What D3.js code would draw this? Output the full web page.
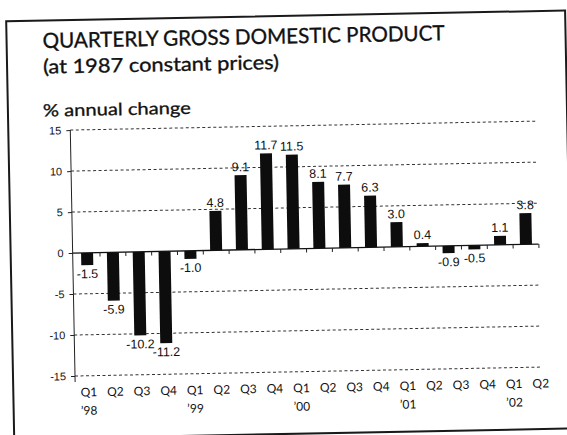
<!DOCTYPE html>
<html>
<head>
<meta charset="utf-8">
<script src="https://cdn.jsdelivr.net/npm/d3@7"></script>
<style>
  body { margin: 0; background: #fff; }
  svg { display: block; }
</style>
</head>
<body>
<div id="chart"></div>
<script>
// chart data
const quarters = ["Q1 98", "Q2 98", "Q3 98", "Q4 98", "Q1 99", "Q2 99", "Q3 99", "Q4 99",
  "Q1 00", "Q2 00", "Q3 00", "Q4 00", "Q1 01", "Q2 01", "Q3 01", "Q4 01", "Q1 02", "Q2 02"];
const quarterLabels = ["Q1", "Q2", "Q3", "Q4", "Q1", "Q2", "Q3", "Q4", "Q1", "Q2", "Q3", "Q4",
  "Q1", "Q2", "Q3", "Q4", "Q1", "Q2"];
const yearLabels = ["’98", "", "", "", "’99", "", "", "", "’00", "", "", "",
  "’01", "", "", "", "’02", ""];
const gdpChange = [-1.5, -5.9, -10.2, -11.2, -1.0, 4.8, 9.1, 11.7, 11.5, 8.1, 7.7, 6.3,
  3.0, 0.4, -0.9, -0.5, 1.1, 3.8];
const yTicks = [-15, -10, -5, 0, 5, 10, 15];

const title = "QUARTERLY GROSS DOMESTIC PRODUCT";
const subtitle = "(at 1987 constant prices)";
const unitLabel = "% annual change";

const width = 567;
const height = 435;

const svg = d3.select("#chart")
  .append("svg")
  .attr("width", width)
  .attr("height", height);

svg.append("rect")
  .attr("width", width)
  .attr("height", height)
  .attr("fill", "#fff");

// the scan is slightly tilted, so everything sits in one rotated group
const g = svg.append("g")
  .attr("transform", "rotate(-1.1, 283, 217)");

// frame
g.append("rect")
  .attr("x", 10)
  .attr("y", 16)
  .attr("width", 559)
  .attr("height", 418)
  .attr("fill", "none")
  .attr("stroke", "#1a1a1a")
  .attr("stroke-width", 2);

// headings
const headFont = "Lato, 'Open Sans', sans-serif";
const narrowFont = "'Liberation Sans Narrow', 'Liberation Sans', Arial, sans-serif";

g.append("text")
  .attr("x", 46)
  .attr("y", 43.5)
  .attr("font-family", headFont)
  .attr("font-size", 21)
  .attr("fill", "#111")
  .attr("stroke", "#111")
  .attr("stroke-width", 0.35)
  .attr("textLength", 402)
  .attr("lengthAdjust", "spacingAndGlyphs")
  .text(title);

g.append("text")
  .attr("x", 46)
  .attr("y", 69)
  .attr("font-family", headFont)
  .attr("font-size", 19.5)
  .attr("fill", "#111")
  .attr("stroke", "#111")
  .attr("stroke-width", 0.35)
  .attr("textLength", 236)
  .attr("lengthAdjust", "spacingAndGlyphs")
  .text(subtitle);

g.append("text")
  .attr("x", 45)
  .attr("y", 112)
  .attr("font-family", headFont)
  .attr("font-size", 17)
  .attr("fill", "#111")
  .attr("stroke", "#111")
  .attr("stroke-width", 0.3)
  .attr("textLength", 148)
  .attr("lengthAdjust", "spacingAndGlyphs")
  .text(unitLabel);

// scales
const x = d3.scaleBand()
  .domain(quarters)
  .range([73.5, 538.3])
  .paddingInner(0.535)
  .paddingOuter(0.2675);

const xLabel = d3.scalePoint()
  .domain(quarters)
  .range([85, 537]);

const y = d3.scaleLinear()
  .domain([-15, 15])
  .range([372, 126]);

const axisX = 72;
const plotRight = 538;

// dashed gridlines
g.append("g")
  .selectAll("line")
  .data(yTicks.filter(d => d !== 0))
  .join("line")
  .attr("x1", axisX)
  .attr("x2", plotRight)
  .attr("y1", d => y(d))
  .attr("y2", d => y(d))
  .attr("stroke", "#333")
  .attr("stroke-width", 1)
  .attr("stroke-dasharray", "3,2.5");

// y axis
const yAxis = g.append("g")
  .attr("transform", `translate(${axisX},0)`)
  .call(d3.axisLeft(y)
    .tickValues(yTicks)
    .tickSize(4)
    .tickPadding(5)
    .tickFormat(d => String(d)));

yAxis.select(".domain")
  .attr("d", `M0,${y(15)}V${y(-15) + 6}`)
  .attr("stroke", "#222")
  .attr("stroke-width", 1);
yAxis.selectAll(".tick line").attr("stroke", "#222");
yAxis.selectAll(".tick text")
  .attr("font-family", narrowFont)
  .attr("font-size", 11)
  .attr("fill", "#111");

// bars
g.append("g")
  .selectAll("rect")
  .data(gdpChange)
  .join("rect")
  .attr("x", (d, i) => x(quarters[i]))
  .attr("width", x.bandwidth())
  .attr("y", d => y(Math.max(0, d)))
  .attr("height", d => Math.abs(y(d) - y(0)))
  .attr("fill", "#0d0d0d");

// zero line with small ticks between bars
g.append("line")
  .attr("x1", axisX)
  .attr("x2", plotRight)
  .attr("y1", y(0))
  .attr("y2", y(0))
  .attr("stroke", "#111")
  .attr("stroke-width", 1.3);

g.append("g")
  .selectAll("line")
  .data(quarters)
  .join("line")
  .attr("x1", d => x(d) + x.bandwidth() + (x.step() - x.bandwidth()) / 2)
  .attr("x2", d => x(d) + x.bandwidth() + (x.step() - x.bandwidth()) / 2)
  .attr("y1", y(0))
  .attr("y2", y(0) + 4)
  .attr("stroke", "#222")
  .attr("stroke-width", 1);

// value labels
g.append("g")
  .selectAll("text")
  .data(gdpChange)
  .join("text")
  .attr("x", (d, i) => x(quarters[i]) + x.bandwidth() / 2)
  .attr("y", d => d >= 0 ? y(d) - 4 : y(d) + 13)
  .attr("text-anchor", "middle")
  .attr("font-family", narrowFont)
  .attr("font-size", 12.5)
  .attr("fill", "#111")
  .text(d => d.toFixed(1));

// category labels: quarter and year rows
const xAxis = g.append("g")
  .attr("transform", `translate(0,${y(-15)})`)
  .call(d3.axisBottom(xLabel)
    .tickSize(0)
    .tickPadding(12)
    .tickFormat((d, i) => quarterLabels[i]));

xAxis.select(".domain").remove();
xAxis.selectAll(".tick text")
  .attr("font-family", headFont)
  .attr("font-size", 12)
  .attr("fill", "#111");

xAxis.selectAll(".tick")
  .append("text")
  .attr("y", 39)
  .attr("text-anchor", "middle")
  .attr("font-family", headFont)
  .attr("font-size", 12)
  .attr("fill", "#111")
  .text((d, i) => yearLabels[i]);
</script>
</body>
</html>
